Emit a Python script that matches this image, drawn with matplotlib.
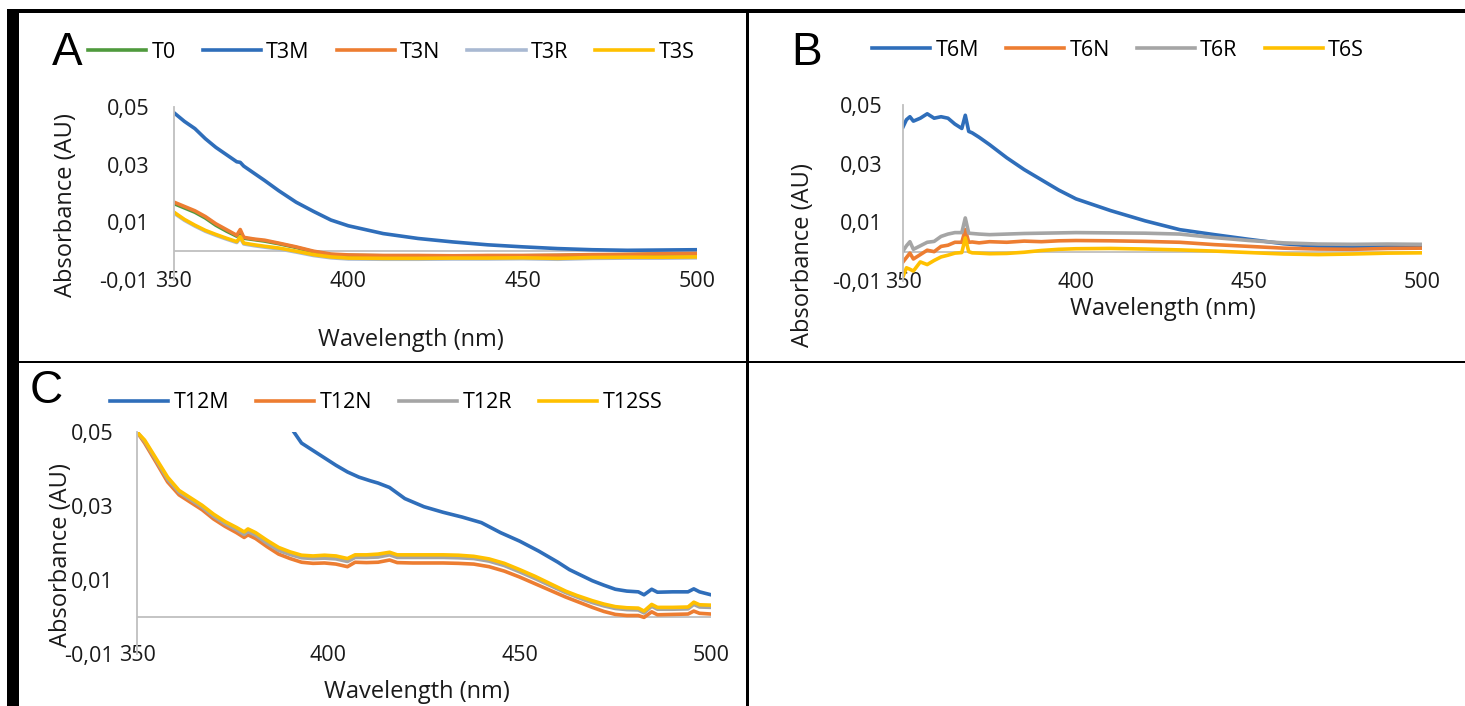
import numpy as np
import matplotlib
matplotlib.use('Agg')
import matplotlib.pyplot as plt
from matplotlib.patches import Rectangle
from matplotlib.ticker import FuncFormatter

W, H = 1465, 706

# colours (Excel style)
BLUE = '#2F6EBA'
ORANGE = '#ED7D31'
GRAY = '#A5A5A5'
YELLOW = '#FFC000'
GREEN = '#4F9A3D'
BLUEGRAY = '#A9B9D2'

# ---- panel A data ----
wl_a = [350, 353, 356, 359, 362, 365, 368, 369, 370, 373, 376, 380, 385, 390, 395,
        400, 410, 420, 430, 440, 450, 460, 470, 480, 490, 500]
t0 = [0.0165, 0.015, 0.0135, 0.0115, 0.009, 0.007, 0.0052, 0.0068, 0.0045, 0.004, 0.0035,
      0.0026, 0.0013, -0.0002, -0.0012, -0.0015, -0.0016, -0.0016, -0.0017, -0.0016,
      -0.0016, -0.0015, -0.0013, -0.0012, -0.001, -0.0009]
t3m = [0.048, 0.045, 0.0425, 0.039, 0.036, 0.0335, 0.031, 0.0308, 0.0295, 0.027, 0.0245,
       0.021, 0.017, 0.0138, 0.0108, 0.0088, 0.0061, 0.0044, 0.0032, 0.0022, 0.0015, 0.0009,
       0.0005, 0.0003, 0.0004, 0.0005]
t3n = [0.017, 0.0155, 0.014, 0.012, 0.0095, 0.0075, 0.0055, 0.0075, 0.0048, 0.0042, 0.0038,
       0.0028, 0.0015, 0.0, -0.001, -0.0013, -0.0015, -0.0015, -0.0016, -0.0015, -0.0015,
       -0.0014, -0.0012, -0.0011, -0.0009, -0.0008]
t3r = [0.0132, 0.0107, 0.0087, 0.0069, 0.0055, 0.0042, 0.003, 0.0046, 0.0025, 0.0019, 0.0014,
       0.0008, -0.0003, -0.0015, -0.0023, -0.0027, -0.0028, -0.0028, -0.0027, -0.0027,
       -0.0026, -0.0028, -0.0025, -0.0024, -0.0024, -0.0023]
t3s = [0.0135, 0.011, 0.009, 0.0072, 0.0058, 0.0045, 0.0033, 0.005, 0.0028, 0.0022, 0.0017,
       0.0011, 0.0, -0.0012, -0.002, -0.0024, -0.0025, -0.0025, -0.0024, -0.0024, -0.0023,
       -0.0025, -0.0022, -0.0021, -0.0021, -0.002]

# ---- panel B data ----
wl_b = [350, 351, 352, 353, 355, 357, 359, 361, 363, 365, 367, 368, 369, 370, 372, 375,
        380, 385, 390, 395, 400, 410, 420, 430, 440, 450, 460, 470, 480, 490, 500]
t6m = [0.0425, 0.045, 0.046, 0.0445, 0.0455, 0.047, 0.0455, 0.046, 0.0455, 0.0435, 0.042,
       0.0465, 0.041, 0.0405, 0.039, 0.0365, 0.032, 0.028, 0.0245, 0.021, 0.018, 0.014,
       0.0105, 0.0075, 0.0058, 0.0042, 0.0027, 0.0018, 0.0017, 0.0019, 0.0018]
t6n = [-0.0035, -0.002, -0.0005, -0.0025, -0.001, 0.0005, 0.0, 0.0018, 0.0022, 0.0032,
       0.0032, 0.0075, 0.0032, 0.0033, 0.003, 0.0034, 0.0032, 0.0036, 0.0034, 0.0037,
       0.0038, 0.0037, 0.0035, 0.0032, 0.0024, 0.0018, 0.0012, 0.0009, 0.0008, 0.0011, 0.0012]
t6r = [0.0002, 0.002, 0.0034, 0.0008, 0.002, 0.0032, 0.0035, 0.0052, 0.006, 0.0065, 0.0065,
       0.0115, 0.0063, 0.0062, 0.006, 0.0058, 0.006, 0.0062, 0.0063, 0.0064, 0.0065, 0.0064,
       0.0063, 0.006, 0.0048, 0.0038, 0.003, 0.0026, 0.0025, 0.0026, 0.0025]
t6s = [-0.0085, -0.0055, -0.006, -0.0066, -0.0035, -0.0044, -0.003, -0.0018, -0.0012,
       -0.0005, -0.0003, 0.0047, 0.0, -0.0004, -0.0005, -0.0007, -0.0006, -0.0002, 0.0004,
       0.0008, 0.001, 0.0011, 0.0009, 0.0006, 0.0002, -0.0003, -0.0008, -0.001, -0.0008,
       -0.0005, -0.0004]

# ---- panel C data ----
wl_c = [350, 352, 355, 358, 361, 364, 367, 370, 373, 376, 378, 379, 381, 384, 387, 390,
        393, 396, 399, 402, 405, 407, 410, 413, 416, 418, 422, 426, 430, 434, 438, 442,
        446, 450, 454, 458, 462, 465, 467, 469, 472, 475, 478, 481, 482.5, 484.5, 486,
        490, 494, 495.5, 497, 500]
t12n = [0.05, 0.047, 0.0418, 0.0365, 0.033, 0.031, 0.029, 0.0265, 0.0245, 0.0228, 0.0215,
        0.0222, 0.0212, 0.019, 0.017, 0.0158, 0.0148, 0.0145, 0.0146, 0.0143, 0.0136,
        0.0148, 0.0147, 0.0148, 0.0154, 0.0147, 0.0146, 0.0146, 0.0146, 0.0145, 0.0143,
        0.0136, 0.0124, 0.0108, 0.009, 0.0072, 0.0054, 0.0042, 0.0034, 0.0026, 0.0015,
        0.0007, 0.0004, 0.0004, -0.0001, 0.0014, 0.0006, 0.0007, 0.0008, 0.0016, 0.001, 0.0008]
t12r = [0.05, 0.0475, 0.0424, 0.0372, 0.0337, 0.0317, 0.0297, 0.0272, 0.0252, 0.0236,
        0.0223, 0.0231, 0.0221, 0.0199, 0.018, 0.0169, 0.016, 0.0158, 0.0159, 0.0157, 0.015,
        0.0161, 0.0161, 0.0162, 0.0168, 0.0161, 0.0161, 0.0161, 0.0161, 0.016, 0.0158,
        0.0151, 0.0139, 0.0122, 0.0104, 0.0085, 0.0066, 0.0054, 0.0046, 0.0039, 0.003,
        0.0023, 0.002, 0.0019, 0.0011, 0.0029, 0.0021, 0.0021, 0.0022, 0.0034, 0.0027, 0.0026]
t12ss = [0.05, 0.0478, 0.0428, 0.0378, 0.0342, 0.0322, 0.0302, 0.0278, 0.0258, 0.0242,
         0.023, 0.0238, 0.0228, 0.0207, 0.0188, 0.0176, 0.0167, 0.0165, 0.0167, 0.0165,
         0.0158, 0.0168, 0.0168, 0.017, 0.0175, 0.0168, 0.0168, 0.0168, 0.0168, 0.0167,
         0.0164, 0.0157, 0.0145, 0.0128, 0.011, 0.009, 0.007, 0.0058, 0.0051, 0.0044,
         0.0035, 0.0028, 0.0025, 0.0024, 0.0016, 0.0034, 0.0026, 0.0026, 0.0027, 0.004,
         0.0033, 0.0032]
wl_c_m = [391, 393, 396, 399, 402, 405, 408, 411, 413, 416, 420, 425, 430, 435, 440, 445,
          450, 455, 460, 463, 465, 467, 469, 472, 475, 478, 481, 482.5, 484.5, 486, 490,
          494, 495.5, 497, 500]
t12m = [0.05, 0.047, 0.045, 0.043, 0.041, 0.0392, 0.0378, 0.0368, 0.0362, 0.035, 0.032,
        0.0298, 0.0283, 0.027, 0.0255, 0.0228, 0.0205, 0.0178, 0.0148, 0.0128, 0.0118,
        0.0108, 0.0098, 0.0086, 0.0075, 0.007, 0.0068, 0.006, 0.0075, 0.0067, 0.0068,
        0.0068, 0.0076, 0.0068, 0.006]

yticks = [-0.01, 0.01, 0.03, 0.05]
xticks = [350, 400, 450, 500]

plt.rcParams['font.family'] = ['Open Sans', 'DejaVu Sans']

fig = plt.figure(figsize=(W / 100, H / 100), dpi=100)


def px_axes(left, top, right, bottom):
    return fig.add_axes([left / W, 1 - bottom / H, (right - left) / W, (bottom - top) / H])


def style(ax, ypad):
    ax.set_xlim(350, 500)
    ax.set_ylim(-0.01, 0.05)
    ax.set_xticks(xticks)
    ax.set_yticks(yticks)
    ax.yaxis.set_major_formatter(FuncFormatter(lambda v, p: f'{v:.2f}'.replace('.', ',')))
    for s in ['top', 'right', 'bottom']:
        ax.spines[s].set_visible(False)
    ax.spines['left'].set_color('#BFBFBF')
    ax.spines['left'].set_linewidth(1.3)
    ax.axhline(0, color='#BFBFBF', lw=1.3, zorder=1)
    ax.tick_params(axis='both', length=0, labelsize=15.5, colors='#1a1a1a')
    ax.tick_params(axis='y', pad=ypad)
    ax.tick_params(axis='x', pad=1)
    for lbl in ax.get_xticklabels():
        lbl.set_va('center')
    ax.set_facecolor('none')


def draw(ax, x, ys, labels, colors):
    for y, lab, c in zip(ys, labels, colors):
        ax.plot(x, y, color=c, lw=2.6, label=lab, solid_joinstyle='round')


# panel A
axA = px_axes(174, 107, 697, 280)
draw(axA, wl_a, [t0, t3m, t3n, t3r, t3s], ['T0', 'T3M', 'T3N', 'T3R', 'T3S'],
     [GREEN, BLUE, ORANGE, BLUEGRAY, YELLOW])
style(axA, 18)

# panel B
axB = px_axes(903, 105, 1422, 281)
draw(axB, wl_b, [t6m, t6n, t6r, t6s], ['T6M', 'T6N', 'T6R', 'T6S'],
     [BLUE, ORANGE, GRAY, YELLOW])
style(axB, 15)

# panel C
axC = px_axes(137, 432, 711, 654)
axC.plot(wl_c_m, t12m, color=BLUE, lw=2.6, label='T12M', solid_joinstyle='round')
draw(axC, wl_c, [t12n, t12r, t12ss], ['T12N', 'T12R', 'T12SS'], [ORANGE, GRAY, YELLOW])
style(axC, 17)

# legends
for ax, x0, y0 in [(axA, 88, 52), (axB, 872, 50), (axC, 110, 403)]:
    ax.legend(loc='center left', bbox_to_anchor=(x0 / W, 1 - y0 / H),
              bbox_transform=fig.transFigure, ncol=5, frameon=False, fontsize=15.5,
              handlelength=2.7, handletextpad=0.25, columnspacing=1.25,
              borderpad=0, borderaxespad=0)

# panel letters
for txt, x0, y0 in [('A', 52, 65), ('B', 791, 65), ('C', 30, 403)]:
    fig.text(x0 / W, 1 - y0 / H, txt, fontsize=33, family='Liberation Sans',
             ha='left', va='baseline')

# axis titles
for x0, y0 in [(66, 205), (803, 255), (61, 555)]:
    fig.text(x0 / W, 1 - y0 / H, 'Absorbance (AU)', rotation=90, fontsize=17,
             ha='center', va='center', color='#1a1a1a')
for x0, y0 in [(411, 340), (1163, 309), (417, 692)]:
    fig.text(x0 / W, 1 - y0 / H, 'Wavelength (nm)', fontsize=17,
             ha='center', va='center', color='#1a1a1a')


# panel frame
def box(x0, y0, x1, y1):
    fig.add_artist(Rectangle((x0 / W, 1 - y1 / H), (x1 - x0) / W, (y1 - y0) / H,
                             transform=fig.transFigure, color='black', lw=0))


box(7, 9, 19, H)
box(7, 9, W, 13)
box(746, 9, 748.5, H)
box(19, 361, W, 363.5)

fig.savefig('out.png', dpi=100)
